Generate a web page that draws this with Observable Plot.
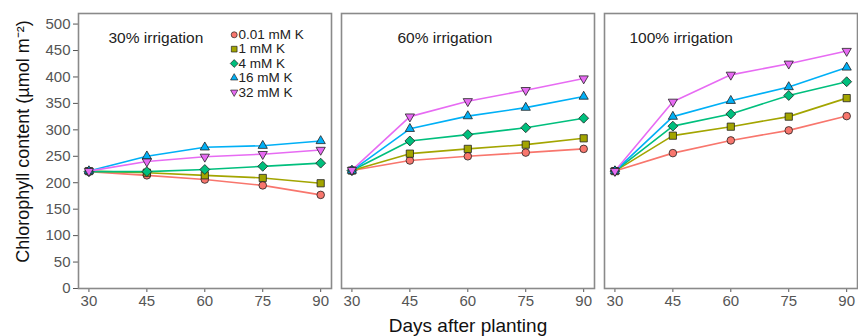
<!DOCTYPE html>
<html><head><meta charset="utf-8">
<script src="https://cdn.jsdelivr.net/npm/d3@7"></script>
<script src="https://cdn.jsdelivr.net/npm/@observablehq/plot@0.6"></script>
<style>
html,body{margin:0;padding:0;background:#fff;}
</style></head><body><div id="chart"></div>
<script>
const days = [30, 45, 60, 75, 90];
const irrigation = ["30% irrigation", "60% irrigation", "100% irrigation"];
const potassium = ["0.01 mM K", "1 mM K", "4 mM K", "16 mM K", "32 mM K"];
const colors = ["#F8766D", "#A3A500", "#00BF7D", "#00B0F6", "#E76BF3"];

// rows: potassium levels, columns: days
const chl30 = [
  [221, 214, 206, 195, 177],
  [222, 219, 214, 209, 199],
  [221, 221, 225, 231, 237],
  [222, 250, 267, 270, 279],
  [222, 240, 249, 254, 262]
];
const chl60 = [
  [223, 242, 250, 257, 264],
  [223, 255, 264, 272, 284],
  [223, 279, 291, 304, 322],
  [223, 302, 326, 342, 363],
  [224, 325, 354, 375, 397]
];
const chl100 = [
  [222, 256, 280, 299, 326],
  [222, 289, 306, 325, 360],
  [222, 307, 330, 365, 391],
  [222, 325, 355, 381, 418],
  [222, 353, 404, 425, 449]
];
const yTicks = [0, 50, 100, 150, 200, 250, 300, 350, 400, 450, 500];
const xTicks = [30, 45, 60, 75, 90];
const yTitle = "Chlorophyll content (µmol m⁻²)";
const xTitle = "Days after planting";

const rows = [];
[chl30, chl60, chl100].forEach((tbl, i) =>
  tbl.forEach((vals, j) =>
    vals.forEach((v, k) => rows.push({irr: irrigation[i], k: potassium[j], day: days[k], value: v}))));

const rad = size => Math.sqrt(size / Math.PI);
const symCircle = {draw(c, size) { const r = rad(size); c.moveTo(r, 0); c.arc(0, 0, r, 0, 2 * Math.PI); c.closePath(); }};
const symSquare = {draw(c, size) { const s = rad(size) * 0.95; c.moveTo(-s, -s); c.lineTo(s, -s); c.lineTo(s, s); c.lineTo(-s, s); c.closePath(); }};
const symDiamond = {draw(c, size) { const d = rad(size) * 1.3; c.moveTo(0, -d); c.lineTo(d, 0); c.lineTo(0, d); c.lineTo(-d, 0); c.closePath(); }};
const symTriUp = {draw(c, size) { const R = rad(size) * 1.4; c.moveTo(0, -R); c.lineTo(R * 0.866, R * 0.5); c.lineTo(-R * 0.866, R * 0.5); c.closePath(); }};
const symTriDown = {draw(c, size) { const R = rad(size) * 1.4; c.moveTo(0, R); c.lineTo(R * 0.866, -R * 0.5); c.lineTo(-R * 0.866, -R * 0.5); c.closePath(); }};
const symbols = [symCircle, symSquare, symDiamond, symTriUp, symTriDown];

const labelDx = [30, 56, 25];

const chart = Plot.plot({
  width: 858,
  height: 336,
  marginLeft: 77,
  marginRight: 0,
  marginTop: 13,
  marginBottom: 48,
  style: {fontFamily: "'Liberation Sans', Arial, sans-serif", fontSize: "15px", color: "#555", background: "#fff"},
  fx: {domain: irrigation, axis: null, paddingInner: 0.038, paddingOuter: 0},
  x: {domain: [27.3, 92.8], ticks: xTicks, tickSize: 4, tickPadding: 3, label: null},
  y: {domain: [0, 520], ticks: yTicks, tickSize: 5, tickPadding: 3, label: null},
  color: {domain: potassium, range: colors},
  symbol: {domain: potassium, range: symbols},
  marks: [
    Plot.line(rows, {fx: "irr", x: "day", y: "value", z: "k", stroke: "k", strokeWidth: 1.6}),
    Plot.dot(rows, {fx: "irr", x: "day", y: "value", symbol: "k", fill: "k", stroke: "#222", strokeWidth: 0.8, r: 3.8}),
    Plot.frame({stroke: "#8a8a8a", strokeWidth: 1.6}),
    ...irrigation.map((name, i) => Plot.text([name], {
      fx: d => d, text: d => d, frameAnchor: "top-left", textAnchor: "start", lineAnchor: "middle",
      dx: labelDx[i], dy: 25, fontSize: 15.5, fill: "#222"
    })),
    ...potassium.flatMap((s, i) => [
      Plot.dot([s], {fx: () => irrigation[0], frameAnchor: "top-left", dx: 155.7, dy: 21.3 + 14.35 * i,
        symbol: d => d, fill: d => d, stroke: "#222", strokeWidth: 0.7, r: 3}),
      Plot.text([s], {fx: () => irrigation[0], frameAnchor: "top-left", dx: 160, dy: 21.3 + 14.35 * i,
        text: d => d, textAnchor: "start", lineAnchor: "middle", fontSize: 13.5, fill: "#222"})
    ]),
    Plot.text([yTitle], {fx: () => irrigation[0], text: d => d, frameAnchor: "left", rotate: -90,
      textAnchor: "middle", lineAnchor: "middle", dx: -55, dy: -9.5, fontSize: 18, fill: "#111"}),
    Plot.text([xTitle], {fx: () => irrigation[1], text: d => d, frameAnchor: "bottom",
      textAnchor: "middle", lineAnchor: "middle", dy: 37, fontSize: 19, fill: "#111"})
  ]
});
document.getElementById("chart").appendChild(chart);
</script></body></html>
